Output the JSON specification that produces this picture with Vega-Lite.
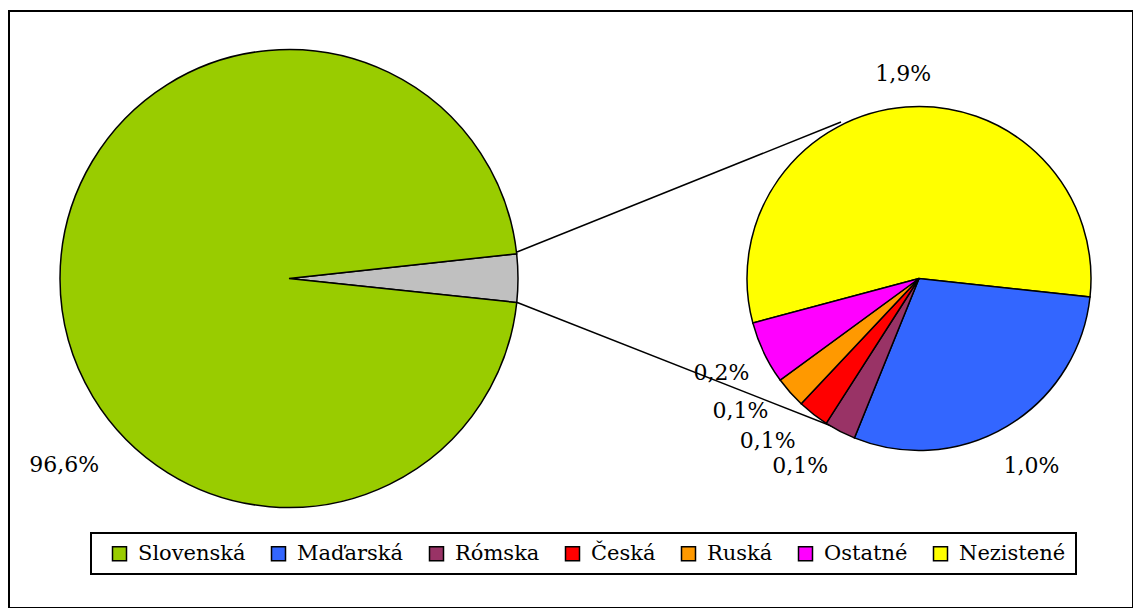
{
  "$schema": "https://vega.github.io/schema/vega-lite/v6.json",
  "width": 1124,
  "height": 597,
  "autosize": {"type": "none"},
  "padding": {"left": 9, "top": 11, "right": 0, "bottom": 0},
  "background": "white",
  "config": {
    "view": {"stroke": "black", "strokeWidth": 2},
    "locale": {"number": {"decimal": ",", "thousands": " ", "grouping": [3], "currency": ["", " €"]}}
  },
  "datasets": {
    "hlavny": [
      {"pie": "main", "jazyk": "Ostatné spolu", "podiel": 0.034, "poradie": 1},
      {"pie": "main", "jazyk": "Slovenská", "podiel": 0.966, "poradie": 2}
    ],
    "detail": [
      {"pie": "detail", "jazyk": "Nezistené", "podiel": 0.019, "poradie": 1},
      {"pie": "detail", "jazyk": "Maďarská", "podiel": 0.010, "poradie": 2},
      {"pie": "detail", "jazyk": "Rómska", "podiel": 0.001, "poradie": 3},
      {"pie": "detail", "jazyk": "Česká", "podiel": 0.001, "poradie": 4},
      {"pie": "detail", "jazyk": "Ruská", "podiel": 0.001, "poradie": 5},
      {"pie": "detail", "jazyk": "Ostatné", "podiel": 0.002, "poradie": 6}
    ],
    "spojnice": [{"od": "main", "do": "detail"}]
  },
  "layer": [
    {
      "data": {"name": "spojnice"},
      "mark": {"type": "rule", "xOffset": 228, "yOffset": -26.5, "x2Offset": -78, "y2Offset": -156.5, "stroke": "black", "strokeWidth": 1.5},
      "encoding": {
        "x": {"field": "od", "type": "nominal", "scale": {"type": "point", "domain": ["main", "detail"], "range": [280, 910], "padding": 0}, "axis": null},
        "x2": {"field": "do"},
        "y": {"field": "od", "type": "nominal", "scale": {"type": "point", "domain": ["main", "detail"], "range": [267.5, 267.5], "padding": 0}, "axis": null},
        "y2": {"field": "do"}
      }
    },
    {
      "data": {"name": "spojnice"},
      "mark": {"type": "rule", "xOffset": 227, "yOffset": 23.5, "x2Offset": -80, "y2Offset": 150.5, "stroke": "black", "strokeWidth": 1.5},
      "encoding": {
        "x": {"field": "od", "type": "nominal"},
        "x2": {"field": "do"},
        "y": {"field": "od", "type": "nominal"},
        "y2": {"field": "do"}
      }
    },
    {
      "data": {"name": "hlavny"},
      "mark": {"type": "arc", "outerRadius": 229, "stroke": "black", "strokeWidth": 1.5},
      "encoding": {
        "x": {"field": "pie", "type": "nominal"},
        "y": {"field": "pie", "type": "nominal"},
        "theta": {"field": "podiel", "type": "quantitative", "stack": true, "scale": {"range": [1.4625, 7.7457]}},
        "order": {"field": "poradie", "type": "quantitative"},
        "color": {
          "field": "jazyk",
          "type": "nominal",
          "scale": {
            "domain": ["Slovenská", "Maďarská", "Rómska", "Česká", "Ruská", "Ostatné", "Nezistené", "Ostatné spolu"],
            "range": ["#99CC00", "#3366FF", "#993366", "#FF0000", "#FF9900", "#FF00FF", "#FFFF00", "#C0C0C0"]
          },
          "legend": {
            "title": null,
            "orient": "none",
            "legendX": 82,
            "legendY": 522,
            "direction": "horizontal",
            "values": ["Slovenská", "Maďarská", "Rómska", "Česká", "Ruská", "Ostatné", "Nezistené"],
            "symbolType": "square",
            "symbolSize": 196,
            "symbolStrokeColor": "black",
            "symbolStrokeWidth": 1.5,
            "symbolOpacity": 1,
            "labelFont": "DejaVu Serif",
            "labelFontSize": 21,
            "labelColor": "black",
            "labelOffset": 8,
            "labelLimit": 400,
            "columnPadding": 14,
            "padding": 10,
            "symbolOffset": 8,
            "strokeColor": "black",
            "encode": {"legend": {"update": {"strokeWidth": {"value": 2}}}}
          }
        }
      }
    },
    {
      "data": {"name": "hlavny"},
      "mark": {"type": "text", "radius": 292, "thetaOffset": -0.691, "font": "DejaVu Serif", "fontSize": 22, "fill": "black"},
      "encoding": {
        "x": {"field": "pie", "type": "nominal"},
        "y": {"field": "pie", "type": "nominal"},
        "theta": {"field": "podiel", "type": "quantitative", "stack": true, "scale": {"range": [1.4625, 7.7457]}},
        "order": {"field": "poradie", "type": "quantitative"},
        "text": {"condition": {"test": "datum.jazyk === 'Slovenská'", "field": "podiel", "type": "quantitative", "format": ".1%"}, "value": ""}
      }
    },
    {
      "data": {"name": "detail"},
      "mark": {"type": "arc", "outerRadius": 172, "stroke": "black", "strokeWidth": 1.5},
      "encoding": {
        "x": {"field": "pie", "type": "nominal"},
        "y": {"field": "pie", "type": "nominal"},
        "theta": {"field": "podiel", "type": "quantitative", "stack": true, "scale": {"range": [-1.8326, 4.4506]}},
        "order": {"field": "poradie", "type": "quantitative"},
        "color": {"field": "jazyk", "type": "nominal"}
      }
    },
    {
      "data": {"name": "detail"},
      "mark": {"type": "text", "radius": 205, "font": "DejaVu Serif", "fontSize": 22, "fill": "black"},
      "encoding": {
        "x": {"field": "pie", "type": "nominal"},
        "y": {"field": "pie", "type": "nominal"},
        "theta": {"field": "podiel", "type": "quantitative", "stack": true, "scale": {"range": [-1.8326, 4.4506]}},
        "order": {"field": "poradie", "type": "quantitative"},
        "text": {"condition": {"test": "datum.jazyk === 'Nezistené'", "field": "podiel", "type": "quantitative", "format": ".1%"}, "value": ""}
      }
    },
    {
      "data": {"name": "detail"},
      "mark": {"type": "text", "radius": 219, "font": "DejaVu Serif", "fontSize": 22, "fill": "black"},
      "encoding": {
        "x": {"field": "pie", "type": "nominal"},
        "y": {"field": "pie", "type": "nominal"},
        "theta": {"field": "podiel", "type": "quantitative", "stack": true, "scale": {"range": [-1.8326, 4.4506]}},
        "order": {"field": "poradie", "type": "quantitative"},
        "text": {"condition": {"test": "datum.jazyk === 'Maďarská' || datum.jazyk === 'Ostatné'", "field": "podiel", "type": "quantitative", "format": ".1%"}, "value": ""}
      }
    },
    {
      "data": {"name": "detail"},
      "mark": {"type": "text", "radius": 222, "thetaOffset": 0.087, "font": "DejaVu Serif", "fontSize": 22, "fill": "black"},
      "encoding": {
        "x": {"field": "pie", "type": "nominal"},
        "y": {"field": "pie", "type": "nominal"},
        "theta": {"field": "podiel", "type": "quantitative", "stack": true, "scale": {"range": [-1.8326, 4.4506]}},
        "order": {"field": "poradie", "type": "quantitative"},
        "text": {"condition": {"test": "datum.podiel < 0.0015", "field": "podiel", "type": "quantitative", "format": ".1%"}, "value": ""}
      }
    }
  ],
  "resolve": {"scale": {"theta": "independent"}}
}
